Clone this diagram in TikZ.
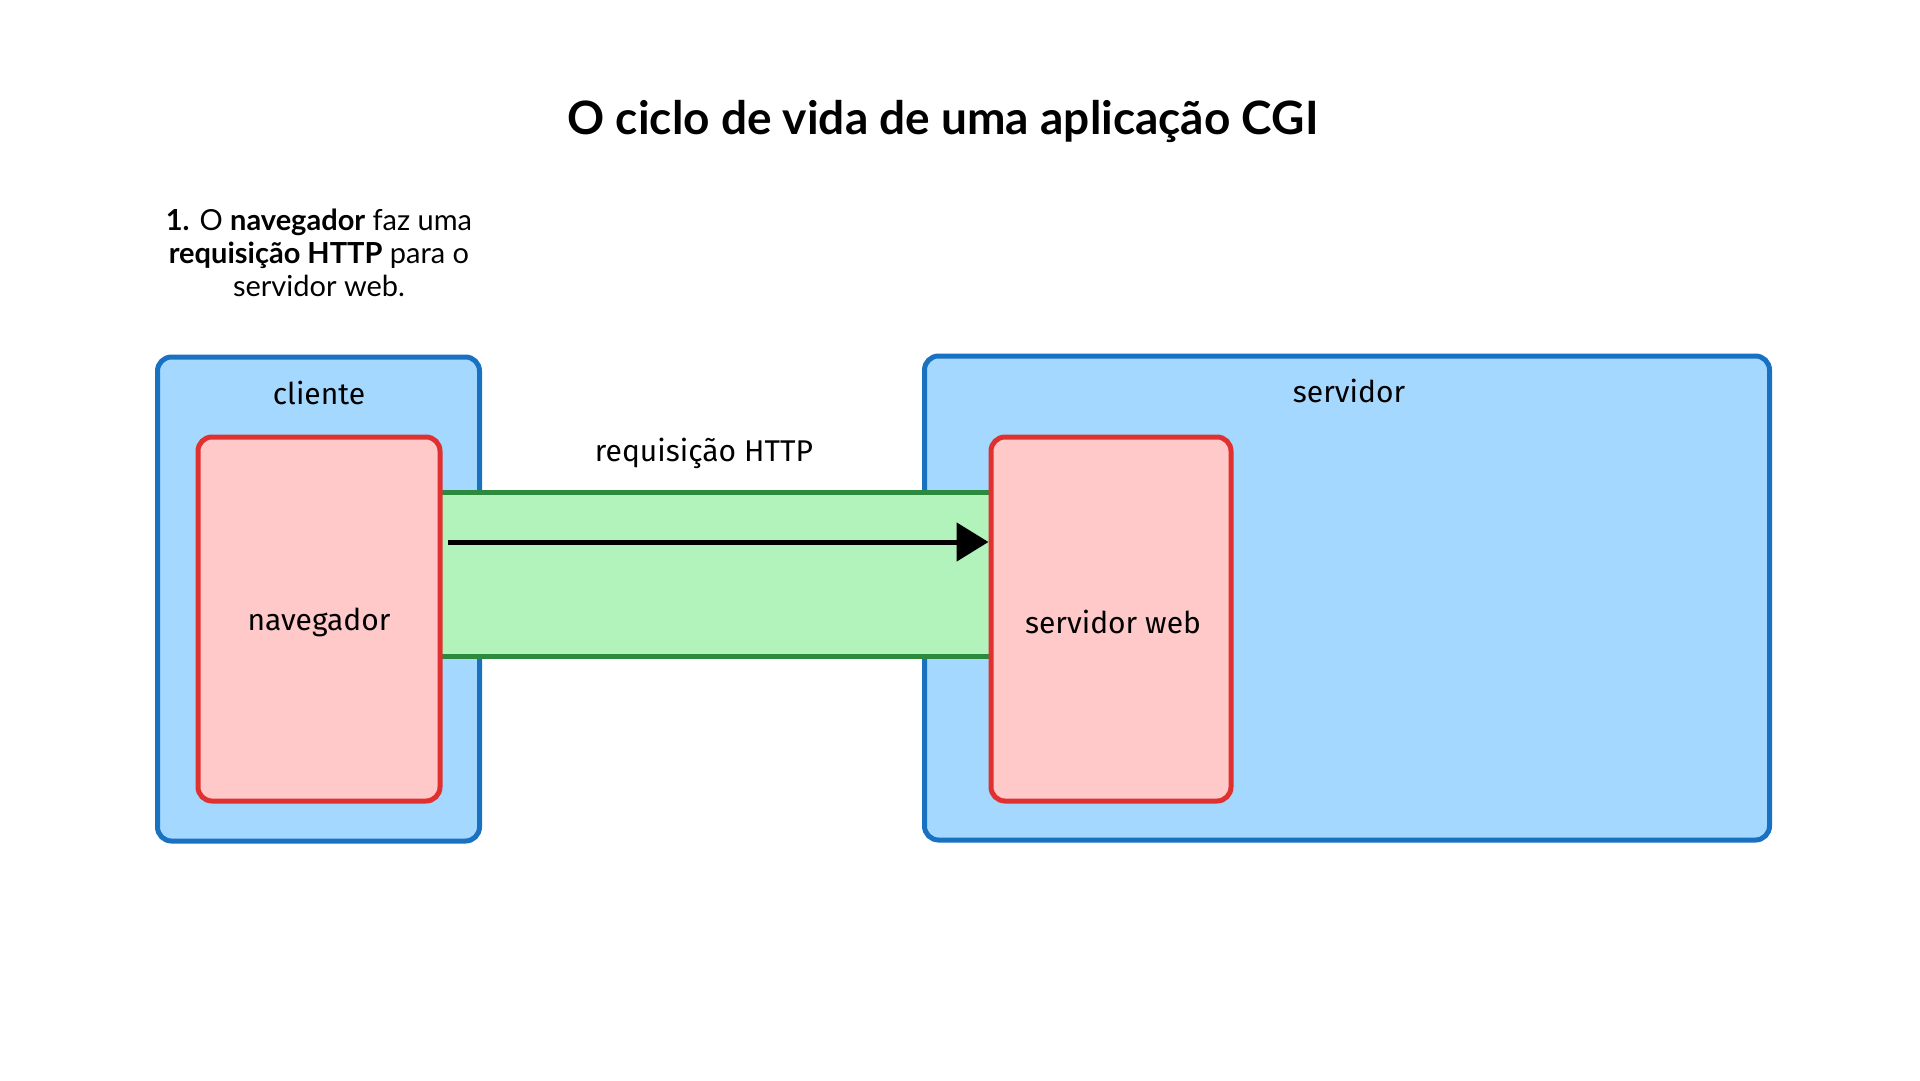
\documentclass[tikz,border=0pt]{standalone}
\usepackage{fontspec}
\setmainfont{Lato}
\newfontfamily\handfont{Fira Sans}
\usetikzlibrary{arrows.meta}
\definecolor{bluefill}{HTML}{A5D8FF}
\definecolor{bluestroke}{HTML}{1971C2}
\definecolor{redfill}{HTML}{FFC9C9}
\definecolor{redstroke}{HTML}{E03131}
\definecolor{greenfill}{HTML}{B2F2BB}
\definecolor{greenstroke}{HTML}{2B8A3E}
\tikzset{
  bluebox/.style={draw=bluestroke, fill=bluefill, line width=5pt, rounded corners=14pt, inner sep=0pt},
  redbox/.style={draw=redstroke, fill=redfill, line width=5pt, rounded corners=14pt, inner sep=0pt},
  band/.style={fill=greenfill, inner sep=0pt},
  bandline/.style={draw=greenstroke, line width=5pt},
  handlabel/.style={font=\handfont\fontsize{30}{34}\selectfont, text=black, inner sep=0pt},
  req/.style={draw=black, line width=5pt, -{Triangle[length=32pt,width=38pt]}},
}
\begin{document}
\begin{tikzpicture}[x=1pt,y=-1pt]
\useasboundingbox[fill=white] (0,0) rectangle (1920,1080);
% title
\node[font=\bfseries\fontsize{46}{54}\selectfont, inner sep=0pt] (title) at (943,121) {O ciclo de vida de uma aplicação CGI};
% step text
\node[align=center, font=\fontsize{29}{33}\selectfont, inner sep=0pt] (step) at (319,253)
  {\textbf{1.} O \textbf{navegador} faz uma\\ \textbf{requisição HTTP} para o\\ servidor web.};
% outer boxes
\node[bluebox, minimum width=322pt, minimum height=484pt] (cliente) at (318.5,599) {};
\node[bluebox, minimum width=845pt, minimum height=484pt] (servidor) at (1347,598) {};
% green band
\node[band, minimum width=560pt, minimum height=163pt] (bandnode) at (716,574.5) {};
\draw[bandline] (bandnode.north west) -- (bandnode.north east);
\draw[bandline] (bandnode.south west) -- (bandnode.south east);
% inner boxes
\node[redbox, minimum width=242pt, minimum height=364pt] (nav) at (319,619) {};
\node[redbox, minimum width=240pt, minimum height=364pt] (sweb) at (1111,619) {};
% labels
\node[handlabel] (lcliente) at (319,393) {cliente};
\node[handlabel] (lservidor) at (1349,391) {servidor};
\node[handlabel] (lnav) at (319,622) {navegador};
\node[handlabel] (lsweb) at (1113,622) {servidor web};
\node[handlabel] (lreq) at (704,453) {requisição HTTP};
% arrow
\coordinate (a0) at (448,542);
\draw[req] (a0) -- (sweb.west |- a0);
\end{tikzpicture}
\end{document}
